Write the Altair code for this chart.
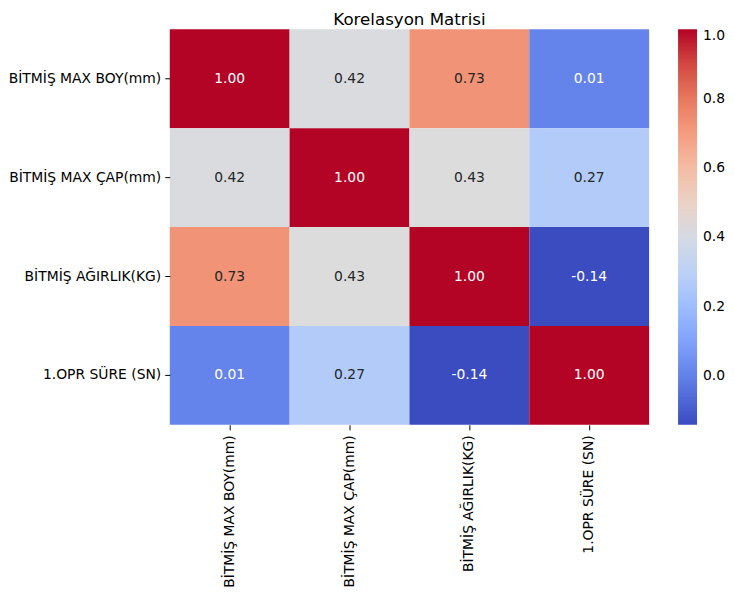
import altair as alt
import pandas as pd

labels = ["BİTMİŞ MAX BOY(mm)", "BİTMİŞ MAX ÇAP(mm)", "BİTMİŞ AĞIRLIK(KG)", "1.OPR SÜRE (SN)"]
row1 = [1.00, 0.42, 0.73, 0.01]
row2 = [0.42, 1.00, 0.43, 0.27]
row3 = [0.73, 0.43, 1.00, -0.14]
row4 = [0.01, 0.27, -0.14, 1.00]
rows = [row1, row2, row3, row4]
colorbar_ticks = [0.0, 0.2, 0.4, 0.6, 0.8, 1.0]

coolwarm = ["#3b4cc0", "#5a78e4", "#7b9ff9", "#9ebeff", "#c0d4f5", "#dddcdc",
            "#f2cbb7", "#f7ac8e", "#ee8468", "#d65244", "#b40426"]

records = []
for i, r in enumerate(labels):
    for j, c in enumerate(labels):
        v = rows[i][j]
        records.append({"row": r, "col": c, "value": v, "label": f"{v:.2f}"})
df = pd.DataFrame(records)

font = "DejaVu Sans"
fs = 13.9

base = alt.Chart(df).encode(
    x=alt.X("col:N", sort=labels, title=None,
            axis=alt.Axis(labelAngle=-90, labelFont=font, labelFontSize=fs,
                          labelColor="#000", tickColor="#000", tickSize=5,
                          domain=False, labelPadding=5, labelLimit=300)),
    y=alt.Y("row:N", sort=labels, title=None,
            axis=alt.Axis(labelFont=font, labelFontSize=fs, labelColor="#000",
                          tickColor="#000", tickSize=5, domain=False,
                          labelPadding=4, minExtent=161, maxExtent=161, labelLimit=300)),
)

rect = base.mark_rect().encode(
    color=alt.Color("value:Q",
                    scale=alt.Scale(range=coolwarm, domain=[-0.14, 1.0], interpolate="rgb"),
                    legend=alt.Legend(title=None, gradientLength=396, gradientThickness=19,
                                      offset=29, values=colorbar_ticks,
                                      format=".1f", labelFont=font, labelFontSize=fs,
                                      labelColor="#000", labelOffset=6,
                                      gradientStrokeWidth=0, direction="vertical",
                                      padding=0))
)

text = base.mark_text(font=font, fontSize=fs).encode(
    text=alt.Text("label:N"),
    color=alt.condition("datum.value > 0.85 || datum.value < 0.15",
                        alt.value("white"), alt.value("#262626")),
)

chart = (rect + text).properties(
    width=480, height=396,
    padding={"left": 0, "top": 3, "right": 0, "bottom": 0},
    title=alt.Title("Korelasyon Matrisi", font=font, fontSize=16.7, fontWeight="normal",
                    color="#000", offset=1),
).configure_view(stroke=None).configure_scale(bandPaddingInner=0, bandPaddingOuter=0)

chart.save("out.html", embed_options={"renderer": "svg", "actions": False})
